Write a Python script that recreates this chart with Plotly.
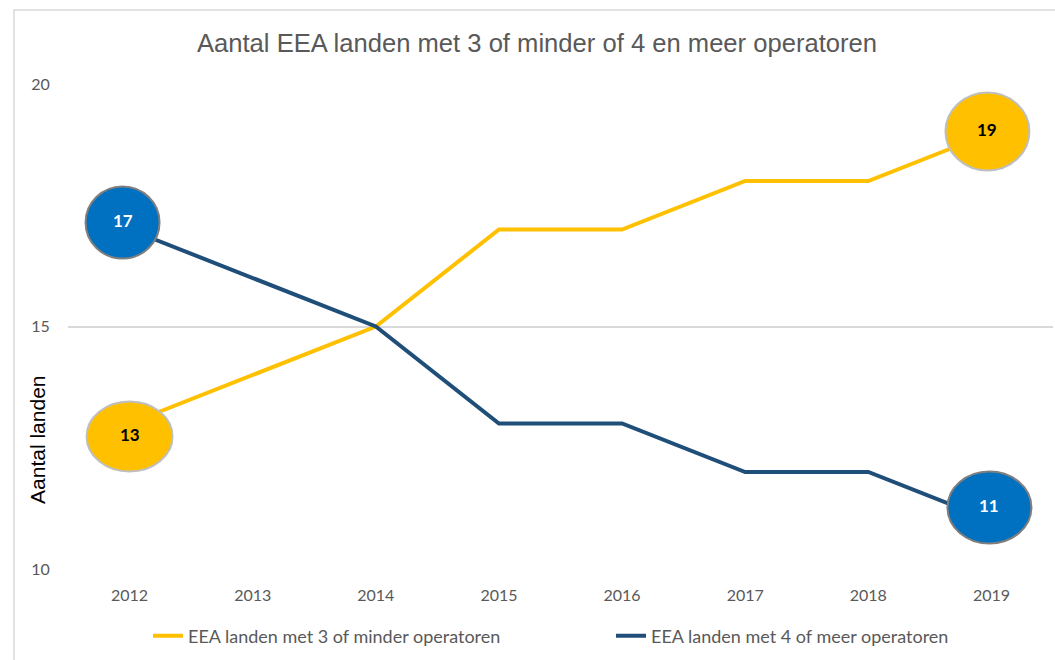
import plotly.graph_objects as go

years = ["2012", "2013", "2014", "2015", "2016", "2017", "2018", "2019"]
min3 = [13, 14, 15, 17, 17, 18, 18, 19]
meer4 = [17, 16, 15, 13, 13, 12, 12, 11]
name_min3 = "EEA landen met 3 of minder operatoren"
name_meer4 = "EEA landen met 4 of meer operatoren"
title_text = "Aantal EEA landen met 3 of minder of 4 en meer operatoren"
y_title = "Aantal landen"

xi = list(range(len(years)))
YEL = "#FFC000"
BLUE_LINE = "#1F4E79"
BLUE_FILL = "#0070C0"
TICK = "#595959"
GRID = "#D9D9D9"
FONT = "Lato, Open Sans, sans-serif"

fig = go.Figure()
fig.add_trace(go.Scatter(x=xi, y=min3, mode="lines", name=name_min3,
                         line=dict(color=YEL, width=4), legend="legend"))
fig.add_trace(go.Scatter(x=xi, y=meer4, mode="lines", name=name_meer4,
                         line=dict(color=BLUE_LINE, width=4), legend="legend2"))

# bubble callouts: (series, index, fill, border, text colour, dx, dy, half-width, half-height) in px
bubbles = [
    (min3, 0, YEL, "#BFBFBF", "black", 0, -13, 43, 35),
    (meer4, 0, BLUE_FILL, "#7F7F7F", "white", -7, 7, 37, 36),
    (min3, -1, YEL, "#BFBFBF", "black", -4, 1, 42, 39),
    (meer4, -1, BLUE_FILL, "#7F7F7F", "white", -2, 13, 42, 36),
]
for vals, idx, fill, border, tc, dx, dy, hw, hh in bubbles:
    xv = xi[idx]
    yv = vals[idx]
    fig.add_shape(type="circle", xref="x", yref="y", xsizemode="pixel", ysizemode="pixel",
                  xanchor=xv, yanchor=yv, x0=-hw + dx, x1=hw + dx, y0=-hh + dy, y1=hh + dy,
                  fillcolor=fill, line=dict(color=border, width=2), layer="above")
    fig.add_annotation(x=xv, y=yv, xref="x", yref="y", text="<b>%d</b>" % yv,
                       showarrow=False, xshift=dx, yshift=dy + 2,
                       font=dict(family=FONT, size=17, color=tc))

# outer chart border (left and top edges visible)
fig.add_shape(type="rect", xref="paper", yref="paper", x0=-0.0548, x1=1.2, y0=-0.6, y1=1.1526,
              line=dict(color="#D9D9D9", width=1.5), fillcolor="rgba(0,0,0,0)", layer="below")

fig.add_annotation(xref="paper", yref="paper", x=-0.0305, y=0.266, text=y_title,
                   textangle=-90, showarrow=False, xanchor="center", yanchor="middle",
                   font=dict(family="Liberation Sans, Arial, sans-serif", size=21, color="black"))

legend_style = dict(orientation="h", y=-0.138, xanchor="left", yanchor="middle",
                    font=dict(family=FONT, size=18, color=TICK), bgcolor="rgba(0,0,0,0)")

fig.update_layout(
    width=1055, height=660,
    margin=dict(l=68, r=2, t=84, b=91, autoexpand=False),
    paper_bgcolor="white", plot_bgcolor="white",
    title=dict(text=title_text, x=537 / 1055, xref="container", xanchor="center",
               y=1 - 43 / 660, yref="container", yanchor="middle",
               font=dict(family="Liberation Sans, Arial, sans-serif", size=25.6, color=TICK)),
    xaxis=dict(range=[-0.5, 7.5], tickvals=xi, ticktext=years, showgrid=False,
               zeroline=False, showline=False, ticks="outside", ticklen=12,
               tickcolor="rgba(0,0,0,0)",
               tickfont=dict(family=FONT, size=16, color=TICK)),
    yaxis=dict(range=[10, 20], tickvals=[10, 15, 20], showgrid=True, gridcolor=GRID,
               gridwidth=1.5, zeroline=False, showline=False, ticks="outside",
               ticklen=14, tickcolor="rgba(0,0,0,0)",
               tickfont=dict(family=FONT, size=16, color=TICK)),
    showlegend=True,
    legend=dict(x=(148 - 68) / 985, **legend_style),
    legend2=dict(x=(611 - 68) / 985, **legend_style),
)

fig.write_html("out.html", post_script="document.body.style.margin='0';",
               config={"displayModeBar": False})
